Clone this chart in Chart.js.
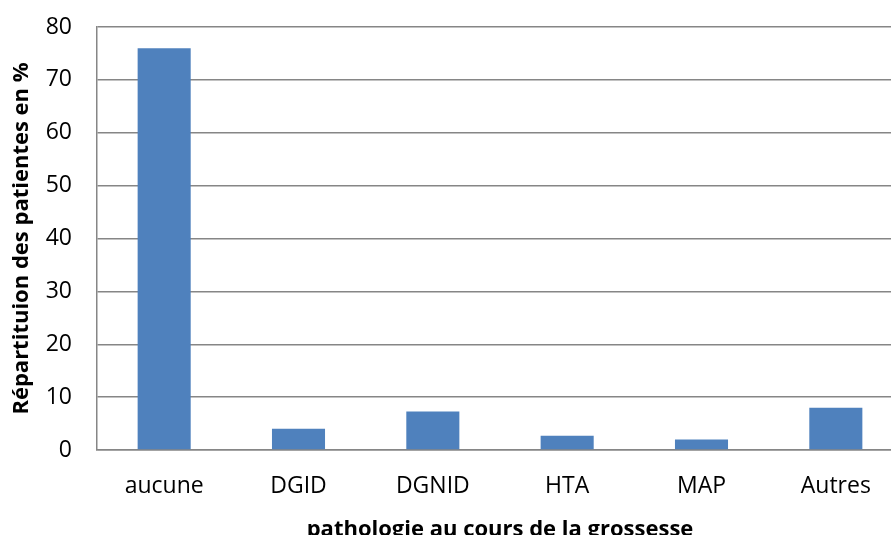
<!DOCTYPE html>
<html>
<head>
<meta charset="utf-8">
<script src="https://cdn.jsdelivr.net/npm/chart.js@4"></script>
<style>
html,body{margin:0;padding:0;overflow:hidden;background:#fff;width:891px;height:535px;}
#wrap{position:absolute;left:0;top:0;width:906px;height:548px;}
</style>
</head>
<body>
<div id="wrap"><canvas id="c"></canvas></div>
<script>
const categories = ["aucune", "DGID", "DGNID", "HTA", "MAP", "Autres"];
const values = [76, 4, 7.3, 2.7, 2.0, 8.0];
const yTicks = [0, 10, 20, 30, 40, 50, 60, 70, 80];
const xTitle = "pathologie au cours de la grossesse";
const yTitle = "Répartituion des patientes en %";

const FONT = "'Open Sans', sans-serif";
new Chart(document.getElementById('c'), {
  type: 'bar',
  data: {
    labels: categories,
    datasets: [{
      data: values,
      backgroundColor: '#4f81bd',
      borderWidth: 0,
      categoryPercentage: 1,
      barPercentage: 0.395
    }]
  },
  options: {
    responsive: true,
    maintainAspectRatio: false,
    animation: false,
    layout: { padding: { top: 27, right: 3, left: 9, bottom: 0 } },
    plugins: { legend: { display: false }, tooltip: { enabled: false } },
    scales: {
      x: {
        afterFit: (s) => { s.height = 98; s.paddingLeft = 0; s.paddingRight = 0; },
        grid: { display: false, drawTicks: false },
        border: { display: true, color: '#868686', width: 1.5 },
        ticks: { color: '#000', font: { family: FONT, size: 23 }, padding: 23, maxRotation: 0 },
        title: { display: true, text: xTitle, color: '#000', font: { family: FONT, size: 22, weight: 'bold' }, padding: { top: 0, bottom: 5 } }
      },
      y: {
        min: 0, max: 80,
        afterFit: (s) => { s.width = 88; s.paddingTop = 0; s.paddingBottom = 0; },
        afterBuildTicks: (ax) => { ax.ticks = yTicks.map(v => ({ value: v })); },
        grid: { color: '#868686', lineWidth: 1.5, drawTicks: false },
        border: { display: true, color: '#868686', width: 1.5 },
        ticks: { color: '#000', font: { family: FONT, size: 23 }, padding: 25 },
        title: { display: true, text: yTitle, color: '#000', font: { family: FONT, size: 22, weight: 'bold' }, padding: { top: 0, bottom: 0 } }
      }
    }
  }
});
</script>
</body>
</html>
